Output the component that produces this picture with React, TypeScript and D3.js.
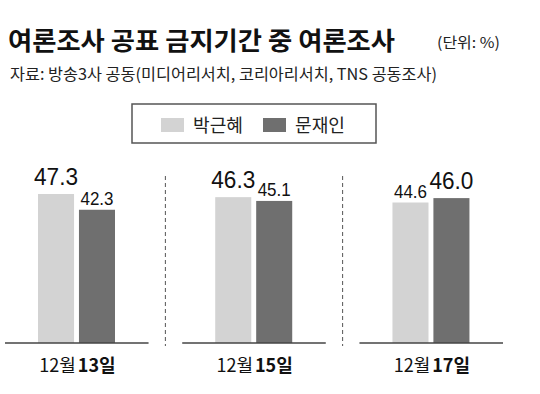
import React from "react";
import { scaleBand, scaleLinear, max } from "d3";

const dates = ["13", "15", "17"];
const seriesNames = ["박근혜", "문재인"];
const park = [47.3, 46.3, 44.6];
const moon = [42.3, 45.1, 46.0];
const colors = ["#d3d3d3", "#6f6f6f"];

const W = 540;
const H = 394;
const baseY = 343;
const kr = "'Noto Sans CJK KR', 'Noto Sans', sans-serif";
const num = "'Liberation Sans', Arial, sans-serif";

export default function App() {
  const x = scaleBand<string>().domain(dates).range([5, 503]).paddingInner(0.19).paddingOuter(0);
  const inner = scaleBand<string>().domain(seriesNames).range([33, 110]).paddingInner(0.12);
  const y = scaleLinear().domain([0, 50]).range([baseY, baseY - 157.5]);

  const groups = dates.map((d, i) => ({ date: d, vals: [park[i], moon[i]] }));

  return (
    <svg width={W} height={H} style={{ position: "absolute", left: 0, top: 0, background: "#fff" }}>
      <text x={8} y={50} fontFamily={kr} fontWeight={700} fontSize={25} fill="#111"
        textLength={387} lengthAdjust="spacingAndGlyphs">여론조사 공표 금지기간 중 여론조사</text>
      <text x={437} y={48} fontFamily={kr} fontSize={15} fill="#222"
        textLength={63} lengthAdjust="spacingAndGlyphs">(단위: %)</text>
      <text x={10} y={80} fontFamily={kr} fontSize={16} fill="#222"
        textLength={427} lengthAdjust="spacingAndGlyphs">자료: 방송3사 공동(미디어리서치, 코리아리서치, TNS 공동조사)</text>

      {/* legend */}
      <rect x={132} y={104} width={244} height={39} fill="#fff" stroke="#555" strokeWidth={1.5} />
      {seriesNames.map((s, i) => (
        <g key={s} transform={`translate(${161 + i * 102},0)`}>
          <rect x={0} y={118} width={23} height={14} fill={colors[i]} />
          <text x={32} y={132} fontFamily={kr} fontSize={18} fill="#222"
            textLength={50} lengthAdjust="spacingAndGlyphs">{s}</text>
        </g>
      ))}

      {/* separators */}
      {dates.slice(1).map((d, i) => {
        const sx = ((x(dates[i]) ?? 0) + x.bandwidth() + (x(d) ?? 0)) / 2;
        return <line key={d} x1={sx} x2={sx} y1={176} y2={346} stroke="#555" strokeDasharray="4,3" />;
      })}

      {groups.map((g) => {
        const gx = x(g.date) ?? 0;
        const top = max(g.vals) ?? 0;
        const cx = x.bandwidth() / 2;
        return (
          <g key={g.date} transform={`translate(${gx},0)`}>
            {g.vals.map((v, j) => {
              const bx = inner(seriesNames[j]) ?? 0;
              const big = v === top;
              return (
                <g key={j}>
                  <rect x={bx} y={y(v)} width={inner.bandwidth()} height={baseY - y(v)} fill={colors[j]} />
                  <text x={bx + inner.bandwidth() / 2} y={y(v) - (big ? 9 : 5)} textAnchor="middle"
                    fontFamily={num} fontSize={big ? 24 : 19} fill="#111"
                    textLength={big ? 44 : 33} lengthAdjust="spacingAndGlyphs">{v.toFixed(1)}</text>
                </g>
              );
            })}
            <line x1={0} x2={x.bandwidth()} y1={baseY} y2={baseY} stroke="#444" strokeWidth={1.5} />
            <text x={cx - 1} y={372} textAnchor="end" fontFamily={kr} fontSize={18} fill="#111">12월</text>
            <text x={cx + 1} y={372} textAnchor="start" fontFamily={kr} fontWeight={700} fontSize={18} fill="#111">{g.date}일</text>
          </g>
        );
      })}
    </svg>
  );
}
